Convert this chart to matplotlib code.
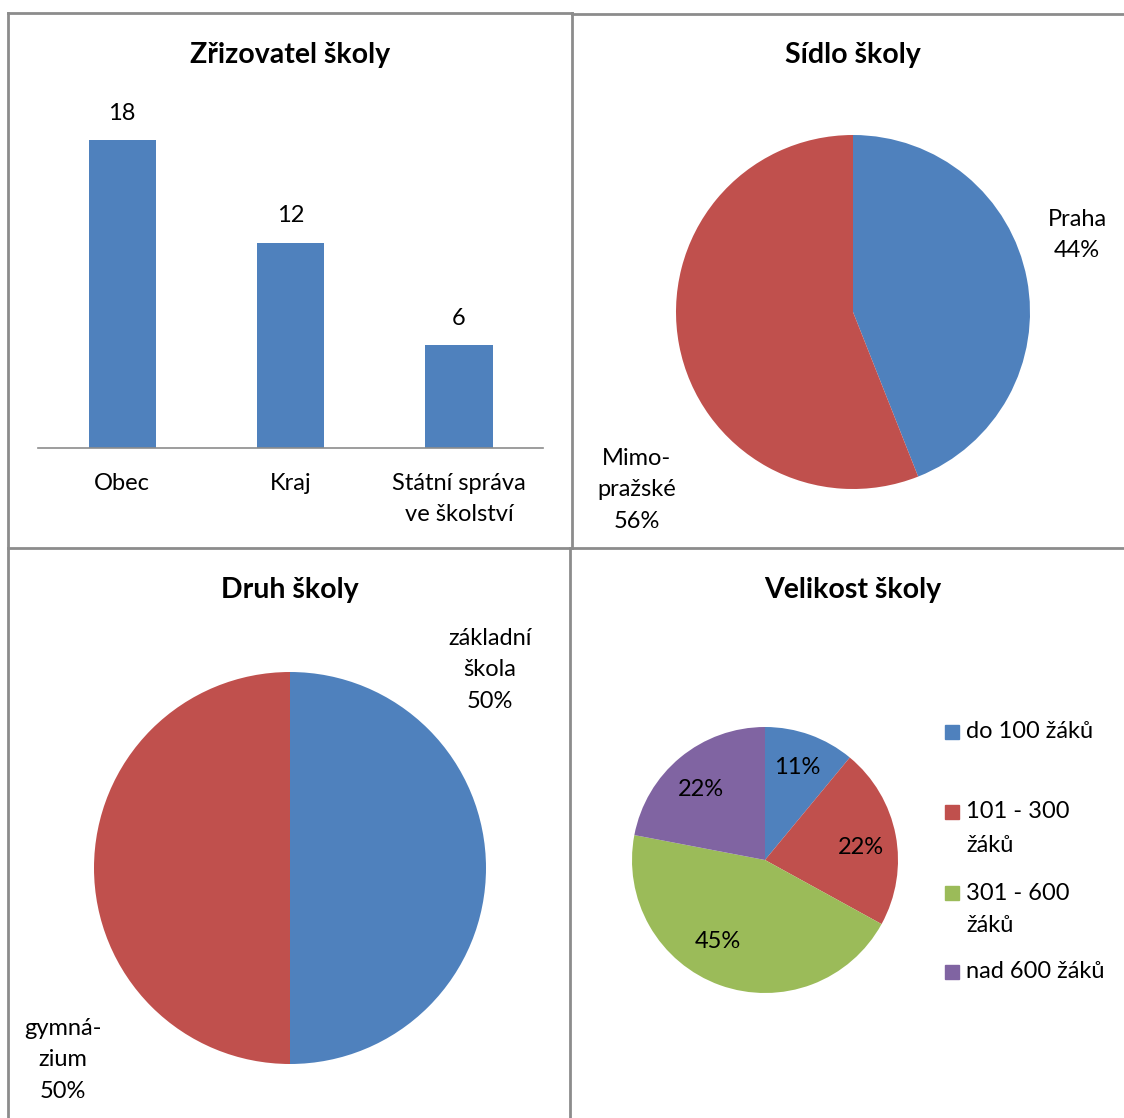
import matplotlib
matplotlib.use("Agg")
import matplotlib.pyplot as plt
from matplotlib.patches import Rectangle
from matplotlib.lines import Line2D

plt.rcParams['font.family'] = ['Lato', 'DejaVu Sans']

# ---- data ----
zriz_cats = ["Obec", "Kraj", "Státní správa\nve školství"]
zriz_vals = [18, 12, 6]

sidlo_labels = ["Praha", "Mimo-\npražské"]
sidlo_vals = [44, 56]

druh_labels = ["základní\nškola", "gymná-\nzium"]
druh_vals = [50, 50]

vel_labels = ["do 100 žáků", "101 - 300\nžáků", "301 - 600\nžáků", "nad 600 žáků"]
vel_vals = [11, 22, 45, 22]

BLUE, RED, GREEN, PURPLE = "#4F81BD", "#C0504D", "#9BBB59", "#8064A2"
FS = 17
TFS = 20.5
LS = 1.6

W, H = 1124, 1118
fig = plt.figure(figsize=(W / 100, H / 100), dpi=100)


def fx(x):
    return x / W


def fy(y):
    return 1 - y / H


def axes_px(x0, y0, x1, y1):
    return fig.add_axes([fx(x0), fy(y1), (x1 - x0) / W, (y1 - y0) / H])


def ftext(x, y, s, **kw):
    kw.setdefault("ha", "center")
    kw.setdefault("va", "center")
    kw.setdefault("fontsize", FS)
    kw.setdefault("linespacing", LS)
    fig.text(fx(x), fy(y), s, **kw)


# ---- panel borders ----
bc = "#8c8c8c"
segs = [
    ((8, 13), (572, 13)), ((572, 14), (1124, 14)),
    ((8, 13), (8, 1118)), ((572, 13), (572, 548)), ((570, 548), (570, 1118)),
    ((8, 548), (1124, 548)),
]
for (a, b) in segs:
    fig.add_artist(Line2D([fx(a[0]), fx(b[0])], [fy(a[1]), fy(b[1])],
                          color=bc, lw=2, transform=fig.transFigure))

# ---- titles ----
for (x, y, t) in [(290, 55, "Zřizovatel školy"), (853, 55, "Sídlo školy"),
                  (290, 590, "Druh školy"), (853, 590, "Velikost školy")]:
    ftext(x, y, t, fontsize=TFS, fontweight="bold")

# ---- bar chart ----
ax = axes_px(38, 106, 543, 448)
xs = range(len(zriz_vals))
bars = ax.bar(xs, zriz_vals, width=0.4, color=BLUE)
ax.set_xlim(-0.5, 2.5)
ax.set_ylim(0, 20)
for b, v in zip(bars, zriz_vals):
    ax.annotate(str(v), (b.get_x() + b.get_width() / 2, v), xytext=(0, 19.5),
                textcoords="offset points", ha="center", va="center", fontsize=FS)
ax.set_xticks(list(xs))
ax.set_xticklabels(zriz_cats, fontsize=FS, linespacing=LS)
ax.tick_params(axis="x", length=0, pad=18)
ax.set_yticks([])
for s in ["top", "left", "right"]:
    ax.spines[s].set_visible(False)
ax.spines["bottom"].set_color("#8c8c8c")
ax.spines["bottom"].set_linewidth(1.2)
ax.patch.set_alpha(0)

# ---- Sídlo pie ----
c, r = (853, 312), 177
ax = axes_px(c[0] - r, c[1] - r, c[0] + r, c[1] + r)
ax.pie(sidlo_vals, colors=[BLUE, RED], startangle=90, counterclock=False, radius=1)
ax.set_xlim(-1, 1); ax.set_ylim(-1, 1); ax.set_aspect("equal")
ftext(1077, 235, f"{sidlo_labels[0]}\n{sidlo_vals[0]}%")
ftext(637, 490, f"{sidlo_labels[1]}\n{sidlo_vals[1]}%")

# ---- Druh pie ----
c, r = (290, 868), 196
ax = axes_px(c[0] - r, c[1] - r, c[0] + r, c[1] + r)
ax.pie(druh_vals, colors=[BLUE, RED], startangle=90, counterclock=False, radius=1)
ax.set_xlim(-1, 1); ax.set_ylim(-1, 1); ax.set_aspect("equal")
ftext(490, 670, f"{druh_labels[0]}\n{druh_vals[0]}%")
ftext(63, 1060, f"{druh_labels[1]}\n{druh_vals[1]}%")

# ---- Velikost pie ----
c, r = (765, 860), 133
ax = axes_px(c[0] - r, c[1] - r, c[0] + r, c[1] + r)
ax.pie(vel_vals, colors=[BLUE, RED, GREEN, PURPLE], startangle=90,
       counterclock=False, radius=1)
ax.set_xlim(-1, 1); ax.set_ylim(-1, 1); ax.set_aspect("equal")
for (x, y), v in zip([(797, 768), (861, 848), (718, 942), (701, 790)], vel_vals):
    ftext(x, y, f"{v}%")

# legend (manual)
leg_y = [732, 812, 893, 972]
for y, lab, col in zip(leg_y, vel_labels, [BLUE, RED, GREEN, PURPLE]):
    fig.add_artist(Rectangle((fx(945), fy(y + 7)), 14 / W, 14 / H, color=col,
                             transform=fig.transFigure))
    for i, ln in enumerate(lab.split("\n")):
        fig.text(fx(966), fy(y + i * 33), ln, ha="left", va="center", fontsize=FS)

fig.savefig("out.png", dpi=100, facecolor="white")
